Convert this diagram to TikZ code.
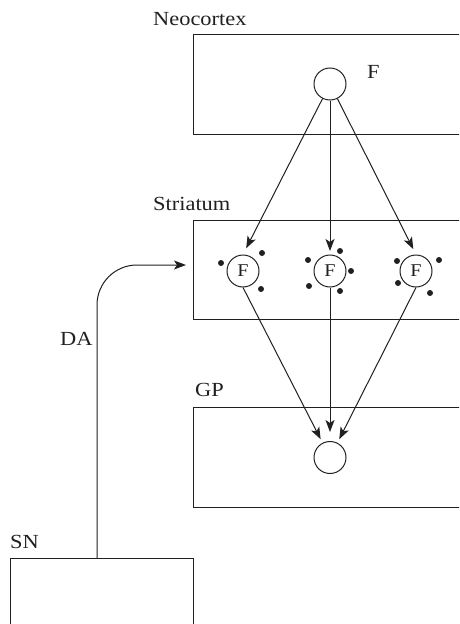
\documentclass[tikz,border=0pt]{standalone}
\usepackage{fontspec}
\setmainfont{Liberation Serif}[FakeStretch=1.12]
\usetikzlibrary{arrows.meta}
\definecolor{ink}{HTML}{231F20}
\tikzset{
  box/.style={draw=ink, line width=1pt},
  lbl/.style={anchor=base west, inner sep=0pt, text=ink, font=\fontsize{20}{22}\selectfont},
  cell/.style={circle, draw=ink, line width=1pt, minimum size=32pt, inner sep=0pt, text=ink, font=\fontsize{18}{20}\selectfont},
  dot/.style={circle, fill=ink, minimum size=6pt, inner sep=0pt},
  arr/.style={draw=ink, line width=1pt, -{Stealth[length=12pt, width=9pt, inset=3pt]}},
}
\begin{document}
\begin{tikzpicture}[x=1pt, y=-1pt]
\useasboundingbox (0,0) rectangle (459,624);
\clip (0,0) rectangle (459,624);
% boxes (open to the right edge)
\draw[box] (470,34) -- (193,34) -- (193,134) -- (470,134);
\draw[box] (470,220) -- (193,220) -- (193,319) -- (470,319);
\draw[box] (470,407) -- (193,407) -- (193,507) -- (470,507);
\draw[box] (10,640) -- (10,558) -- (193,558) -- (193,640);
% labels
\node[lbl] (lneo) at (153,25) {Neocortex};
\node[lbl] (lstr) at (153,210) {Striatum};
\node[lbl] (lgp) at (195,396) {GP};
\node[lbl] (lsn) at (10,548) {SN};
\node[lbl] (lda) at (60,345) {DA};
\node[lbl] (lf) at (367,78) {F};
% cells
\node[cell] (n0) at (330,84) {};
\node[cell] (s1) at (243,271) {F};
\node[cell] (s2) at (330,271) {F};
\node[cell] (s3) at (416,271) {F};
\node[cell] (g) at (330,457.5) {};
% dots
\node[dot] (d11) at (221,263) {};
\node[dot] (d12) at (262,253) {};
\node[dot] (d13) at (261,289) {};
\node[dot] (d21) at (308,260) {};
\node[dot] (d22) at (340,251) {};
\node[dot] (d23) at (351,271) {};
\node[dot] (d24) at (309,286) {};
\node[dot] (d25) at (340,291) {};
\node[dot] (d31) at (397,261) {};
\node[dot] (d32) at (439,260) {};
\node[dot] (d33) at (398,283) {};
\node[dot] (d34) at (430,293) {};
% connectors
\draw[arr, shorten >=7pt] (n0) -- (s1.north);
\draw[arr, shorten >=3.5pt] (n0) -- (s2.north);
\draw[arr, shorten >=6pt] (n0) -- (s3.north);
\draw[arr, shorten >=4pt] (s1.south) -- (g);
\draw[arr, shorten >=9pt] (s2.south) -- (g.north);
\draw[arr, shorten >=4pt] (s3.south) -- (g);
\coordinate (da0) at (97,558);
\coordinate (da1) at (186,265);
\draw[arr, rounded corners=40pt] (da0) |- (da1);
\end{tikzpicture}
\end{document}
